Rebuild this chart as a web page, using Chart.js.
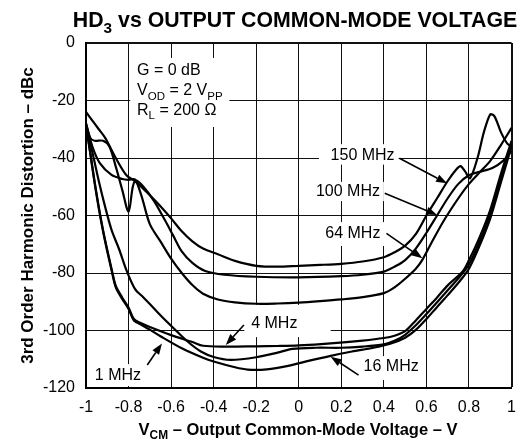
<!DOCTYPE html>
<html>
<head>
<meta charset="utf-8">
<script src="https://cdn.jsdelivr.net/npm/chart.js@4"></script>
<style>
  html, body { margin: 0; padding: 0; background: #fff; }
</style>
</head>
<body>
<canvas id="myChart" width="526" height="444"></canvas>
<script>
// tick labels
const xTickValues = [-1, -0.8, -0.6, -0.4, -0.2, 0, 0.2, 0.4, 0.6, 0.8, 1];
const yTickValues = [0, -20, -40, -60, -80, -100, -120];

// 150 MHz
const mhz150X = [-1, -0.97, -0.94, -0.91, -0.86, -0.81, -0.77, -0.72, -0.66, -0.6, -0.55, -0.5, -0.45, -0.38, -0.3, -0.2, -0.1, 0, 0.1, 0.2, 0.3, 0.4, 0.45, 0.5, 0.55, 0.6, 0.65, 0.7, 0.74, 0.76, 0.78, 0.805, 0.84, 0.87, 0.9, 0.92, 0.95, 0.98, 1];
const mhz150Y = [-24, -27, -30, -33, -40, -46, -48, -51.5, -56, -61, -65.5, -69, -71.5, -73.5, -75.8, -77.5, -77.8, -77.5, -77.2, -76.8, -76, -74.5, -72.8, -70.5, -66.5, -60, -54, -48, -44, -42.8, -44.5, -47, -40, -31, -24.8, -25.5, -31, -35, -36];

// 100 MHz
const mhz100X = [-1, -0.98, -0.96, -0.92, -0.89, -0.86, -0.83, -0.8, -0.78, -0.765, -0.73, -0.68, -0.63, -0.59, -0.55, -0.5, -0.44, -0.35, -0.2, 0, 0.2, 0.3, 0.4, 0.45, 0.5, 0.55, 0.6, 0.65, 0.7, 0.75, 0.8, 0.85, 0.91, 0.96, 1];
const mhz100Y = [-28, -33, -34, -34, -36, -43, -51, -58.7, -50, -47.8, -50, -55, -61.5, -67, -72.5, -76.5, -79.3, -80.6, -81.3, -81.5, -81.1, -80.6, -79.5, -77.8, -75.5, -71.5, -66, -60, -54, -49, -46, -44.8, -43.5, -41, -37.5];

// 64 MHz
const mhz64X = [-1, -0.97, -0.935, -0.88, -0.83, -0.8, -0.77, -0.74, -0.7, -0.65, -0.6, -0.55, -0.5, -0.45, -0.38, -0.3, -0.2, -0.1, 0, 0.1, 0.2, 0.3, 0.4, 0.45, 0.5, 0.55, 0.58, 0.62, 0.68, 0.75, 0.8, 0.85, 0.9, 0.95, 1];
const mhz64Y = [-28, -36, -41.8, -45.9, -47.3, -47.6, -47.5, -53, -63, -69, -75, -80, -84.2, -87.2, -89.2, -90.2, -90.7, -90.6, -90.3, -89.8, -89.2, -88.4, -87, -85, -82, -78.5, -75.5, -70, -62, -54, -49, -45, -41, -35.5, -29.5];

// 16 MHz
const mhz16X = [-1, -0.97, -0.94, -0.91, -0.88, -0.843, -0.81, -0.77, -0.73, -0.7, -0.64, -0.58, -0.52, -0.46, -0.4, -0.32, -0.2, -0.1, -0.03, 0.08, 0.2, 0.3, 0.4, 0.45, 0.5, 0.55, 0.6, 0.65, 0.7, 0.76, 0.8, 0.85, 0.9, 0.95, 1];
const mhz16Y = [-28.5, -38, -48, -57, -65, -72, -79, -85.5, -88.5, -90.8, -95.5, -99.8, -104, -107.3, -109.2, -110.2, -109.3, -107.7, -106.4, -106, -106, -105.6, -104.8, -103.6, -101.5, -98.2, -94.3, -90.2, -86, -81, -77, -69, -59.5, -47, -35];

// 4 MHz
const mhz4X = [-1, -0.98, -0.96, -0.94, -0.92, -0.9, -0.88, -0.86, -0.83, -0.8, -0.775, -0.74, -0.7, -0.6, -0.5, -0.45, -0.35, -0.2, -0.1, 0, 0.15, 0.3, 0.4, 0.45, 0.5, 0.55, 0.6, 0.65, 0.7, 0.77, 0.8, 0.85, 0.9, 0.95, 1];
const mhz4Y = [-28.5, -38, -48, -57, -65, -72, -78.5, -84.5, -88.5, -92, -96, -97.5, -98.8, -101.6, -104, -105.3, -105.6, -105.5, -105.4, -105.2, -104.5, -103.5, -102.6, -101.8, -100.2, -96.5, -92.5, -88.5, -84.3, -79.5, -75.5, -67.5, -58, -45.5, -34];

// 1 MHz
const mhz1X = [-1, -0.98, -0.96, -0.94, -0.92, -0.9, -0.88, -0.86, -0.83, -0.8, -0.775, -0.74, -0.7, -0.65, -0.55, -0.45, -0.4, -0.3, -0.24, -0.15, -0.05, 0.05, 0.15, 0.25, 0.35, 0.43, 0.5, 0.55, 0.6, 0.65, 0.7, 0.76, 0.8, 0.85, 0.9, 0.95, 1];
const mhz1Y = [-28.5, -38.5, -48.5, -57.5, -65.5, -72.5, -79, -85, -89, -92.5, -96.5, -98, -99.7, -102, -106.2, -109.5, -110.8, -112.8, -113.6, -113.5, -112.3, -110.5, -108.8, -107.3, -106, -104.6, -102.5, -99.8, -96, -91.8, -87.7, -82.5, -78.5, -70.5, -61, -48.5, -36];

const seriesNames = ['150 MHz', '100 MHz', '64 MHz', '16 MHz', '4 MHz', '1 MHz'];
const seriesX = [mhz150X, mhz100X, mhz64X, mhz16X, mhz4X, mhz1X];
const seriesY = [mhz150Y, mhz100Y, mhz64Y, mhz16Y, mhz4Y, mhz1Y];

const FONT = 'Arial, "Liberation Sans", sans-serif';

// white boxes behind the notes (data units: x0, y0, x1, y1)
const noteBoxes = [
  [-0.792, -5.2, -0.326, -29.2],
  [0.095, -35.2, 0.469, -42.3],
  [0.062, -48.3, 0.40, -55],
  [0.099, -62.3, 0.413, -70.6],
  [-0.256, -91.1, 0.15, -102.3],
  [-0.982, -111.7, -0.723, -119.3],
  [0.284, -108.9, 0.584, -117.2]
];
// frequency labels: text, x, y
const noteLabels = [
  ['150 MHz', 0.300, -39],
  ['100 MHz', 0.231, -51.7],
  ['64 MHz', 0.254, -66.4],
  ['4 MHz', -0.115, -97.7],
  ['1 MHz', -0.85, -115.8],
  ['16 MHz', 0.434, -112.7]
];
// arrows: from x, y  to x, y
const noteArrows = [
  [0.473, -40.1, 0.697, -48.8],
  [0.404, -52.3, 0.650, -59.8],
  [0.412, -66.2, 0.581, -74.9],
  [-0.258, -98.1, -0.343, -105],
  [-0.712, -112, -0.643, -104.5],
  [0.281, -115.5, 0.150, -109.1]
];

function richWidth(ctx, parts, size, weight) {
  let w = 0;
  parts.forEach(p => {
    ctx.font = weight + ' ' + (p[1] ? size * 0.72 : size) + 'px ' + FONT;
    w += ctx.measureText(p[0]).width;
  });
  return w;
}

function drawRich(ctx, parts, x, y, size, weight, align) {
  let w = richWidth(ctx, parts, size, weight);
  let cx = align === 'center' ? x - w / 2 : x;
  ctx.textAlign = 'left';
  ctx.textBaseline = 'alphabetic';
  parts.forEach(p => {
    ctx.font = weight + ' ' + (p[1] ? size * 0.72 : size) + 'px ' + FONT;
    ctx.fillText(p[0], cx, p[1] ? y + size * 0.28 : y);
    cx += ctx.measureText(p[0]).width;
  });
}

const notesPlugin = {
  id: 'notes',
  beforeDatasetsDraw(chart) {
    const ctx = chart.ctx, xs = chart.scales.x, ys = chart.scales.y;
    ctx.save();
    ctx.fillStyle = '#fff';
    noteBoxes.forEach(b => {
      const x0 = xs.getPixelForValue(b[0]), x1 = xs.getPixelForValue(b[2]);
      const y0 = ys.getPixelForValue(b[1]), y1 = ys.getPixelForValue(b[3]);
      ctx.fillRect(x0, y0, x1 - x0, y1 - y0);
    });
    ctx.restore();
  },
  afterDatasetsDraw(chart) {
    const ctx = chart.ctx, xs = chart.scales.x, ys = chart.scales.y;
    ctx.save();
    ctx.fillStyle = '#000';
    ctx.strokeStyle = '#000';
    ctx.lineWidth = 1.6;
    noteArrows.forEach(a => {
      const x0 = xs.getPixelForValue(a[0]), y0 = ys.getPixelForValue(a[1]);
      const x1 = xs.getPixelForValue(a[2]), y1 = ys.getPixelForValue(a[3]);
      const ang = Math.atan2(y1 - y0, x1 - x0);
      const hl = 11, hw = 4;
      const bx = x1 - hl * Math.cos(ang), by = y1 - hl * Math.sin(ang);
      ctx.beginPath();
      ctx.moveTo(x0, y0);
      ctx.lineTo(bx, by);
      ctx.stroke();
      ctx.beginPath();
      ctx.moveTo(x1, y1);
      ctx.lineTo(bx + hw * Math.sin(ang), by - hw * Math.cos(ang));
      ctx.lineTo(bx - hw * Math.sin(ang), by + hw * Math.cos(ang));
      ctx.closePath();
      ctx.fill();
    });
    ctx.font = '16px ' + FONT;
    ctx.textAlign = 'center';
    ctx.textBaseline = 'middle';
    noteLabels.forEach(l => {
      ctx.fillText(l[0], xs.getPixelForValue(l[1]), ys.getPixelForValue(l[2]));
    });
    // conditions
    const gx = xs.getPixelForValue(-0.76);
    drawRich(ctx, [['G = 0 dB', false]], gx, ys.getPixelForValue(-11.1), 16, 'normal', 'left');
    drawRich(ctx, [['V', false], ['OD', true], [' = 2 V', false], ['PP', true]], gx, ys.getPixelForValue(-18.1), 16, 'normal', 'left');
    drawRich(ctx, [['R', false], ['L', true], [' = 200 \u03A9', false]], gx, ys.getPixelForValue(-25), 16, 'normal', 'left');
    ctx.restore();
  },
  afterDraw(chart) {
    const ctx = chart.ctx;
    ctx.save();
    ctx.fillStyle = '#000';
    drawRich(ctx, [['HD', false], ['3', true], [' vs OUTPUT COMMON-MODE VOLTAGE', false]], 295, 27, 21.3, 'bold', 'center');
    drawRich(ctx, [['V', false], ['CM', true], [' \u2013 Output Common-Mode Voltage \u2013 V', false]], 298, 434.5, 16.5, 'bold', 'center');
    ctx.translate(33, 215.5);
    ctx.rotate(-Math.PI / 2);
    drawRich(ctx, [['3rd Order Harmonic Distortion \u2013 dBc', false]], 0, 0, 17, 'bold', 'center');
    ctx.restore();
  }
};

const datasets = seriesNames.map((name, i) => ({
  label: name,
  data: seriesX[i].map((x, j) => ({ x: x, y: seriesY[i][j] })),
  showLine: true,
  borderColor: '#000',
  borderWidth: 2.2,
  pointRadius: 0,
  tension: 0.3,
  fill: false
}));

const fmt = v => String(Number(Number(v).toFixed(1)));

const ctx = document.getElementById('myChart').getContext('2d');
new Chart(ctx, {
  type: 'scatter',
  data: { datasets: datasets },
  options: {
    responsive: false,
    animation: false,
    layout: { padding: { left: 0, top: 43, right: 7, bottom: 0 } },
    plugins: { legend: { display: false }, tooltip: { enabled: false }, title: { display: false } },
    scales: {
      x: {
        type: 'linear', min: -1, max: 1,
        afterBuildTicks: s => { s.ticks = xTickValues.map(v => ({ value: v })); },
        afterFit: s => { s.height = 56; },
        grid: { color: '#111', lineWidth: c => (c.tick && c.tick.value === 1 ? 2 : 1), drawTicks: false },
        border: { color: '#000', width: 2 },
        ticks: { padding: 10, color: '#000', font: { family: FONT, size: 16 }, maxRotation: 0, autoSkip: false, callback: fmt }
      },
      y: {
        type: 'linear', min: -120, max: 0,
        afterBuildTicks: s => { s.ticks = yTickValues.map(v => ({ value: v })); },
        afterFit: s => { s.width = 86; },
        grid: { color: '#111', lineWidth: c => (c.tick && c.tick.value === 0 ? 2 : 1), drawTicks: false },
        border: { color: '#000', width: 2 },
        ticks: { padding: 11, color: '#000', font: { family: FONT, size: 16 }, autoSkip: false, callback: fmt }
      }
    }
  },
  plugins: [notesPlugin]
});
</script>
</body>
</html>
